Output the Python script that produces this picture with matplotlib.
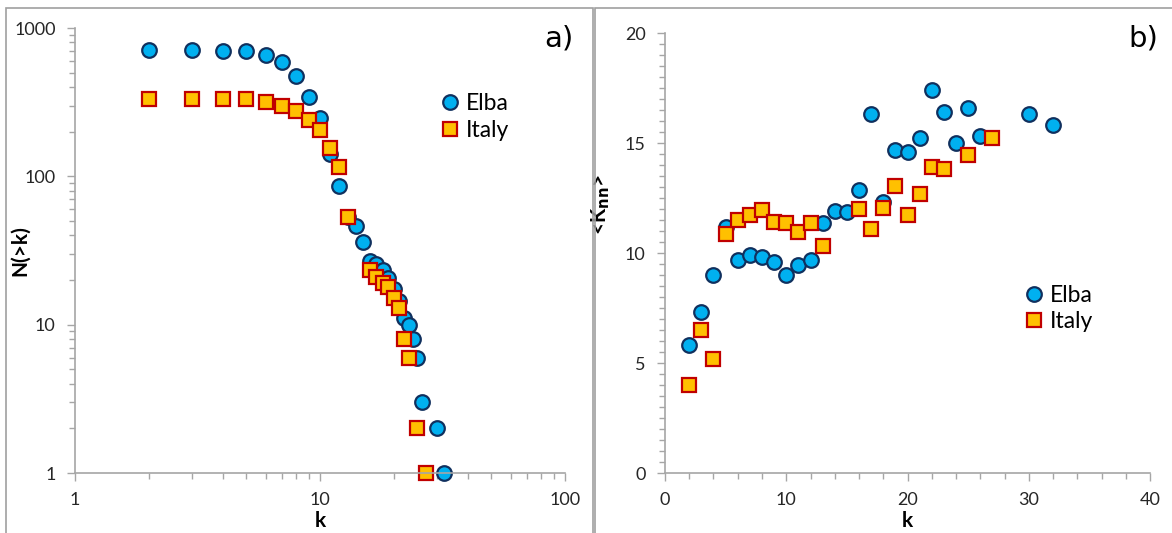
import numpy as np
import matplotlib
matplotlib.use("Agg")
import matplotlib.pyplot as plt
from matplotlib.ticker import LogLocator, MultipleLocator, FixedLocator, NullFormatter
from matplotlib.patches import Rectangle

plt.rcParams['font.family'] = ['Lato', 'DejaVu Sans']

# panel a) cumulative degree distribution N(>k)
elba_k_a = [2, 3, 4, 5, 6, 7, 8, 9, 10, 11, 12, 13, 14, 15, 16, 17, 18, 19, 20, 21, 22, 23, 24, 25, 26, 30, 32]
elba_n_a = [708, 708, 698, 698, 653, 590, 478, 342, 248, 142, 86, 53, 46, 36, 27, 25.5, 23.3, 20.7, 17.3, 14.5, 11.1, 10, 8, 6, 3, 2, 1]
italy_k_a = [2, 3, 4, 5, 6, 7, 8, 9, 10, 11, 12, 13, 16, 17, 18, 19, 20, 21, 22, 23, 25, 27]
italy_n_a = [332, 332, 332, 332, 316, 296, 277, 239, 204, 155, 116, 53, 23.2, 21, 19.2, 18, 15.1, 13, 8, 6, 2, 1]

# panel b) average nearest-neighbour degree <K_nn>
elba_k_b = [2, 3, 4, 5, 6, 7, 8, 9, 10, 11, 12, 13, 14, 15, 16, 17, 18, 19, 20, 21, 22, 23, 24, 25, 26, 30, 32]
elba_knn = [5.8, 7.3, 9.0, 11.2, 9.7, 9.9, 9.8, 9.6, 9.0, 9.45, 9.7, 11.35, 11.9, 11.85, 12.85, 16.3, 12.3, 14.7, 14.6, 15.25, 17.4, 16.4, 15.0, 16.6, 15.3, 16.3, 15.8]
italy_k_b = [2, 3, 4, 5, 6, 7, 8, 9, 10, 11, 12, 13, 16, 17, 18, 19, 20, 21, 22, 23, 25, 27]
italy_knn = [4.0, 6.5, 5.2, 10.85, 11.5, 11.75, 11.95, 11.4, 11.35, 10.95, 11.35, 10.3, 12.0, 11.1, 12.05, 13.05, 11.75, 12.7, 13.9, 13.8, 14.45, 15.25]

W, H = 1172, 533
fig = plt.figure(figsize=(W / 100, H / 100), dpi=100)

# panel frames
for x0, x1 in [(6, 593), (595, 1180)]:
    fig.patches.append(Rectangle((x0 / W, -0.05), (x1 - x0) / W, (H - 8) / H + 0.05,
                                 transform=fig.transFigure, fill=False,
                                 edgecolor='#a0a0a0', lw=1.2))

ax1 = fig.add_axes([75 / W, (H - 473) / H, 490 / W, 445 / H])
ax2 = fig.add_axes([665 / W, (H - 473) / H, 485 / W, 440 / H])

elba_style = dict(ls='none', marker='o', ms=10.5, mfc='#00b0f0', mec='#10305e', mew=1.6, label='Elba')
italy_style = dict(ls='none', marker='s', ms=10, mfc='#ffc000', mec='#c00000', mew=1.6, label='Italy')

ax1.plot(elba_k_a, elba_n_a, **elba_style, clip_on=False)
ax1.plot(italy_k_a, italy_n_a, **italy_style, clip_on=False)
ax1.set_xscale('log')
ax1.set_yscale('log')
ax1.set_xlim(1, 100)
ax1.set_ylim(1, 1000)
ax1.xaxis.set_major_locator(FixedLocator([1, 10, 100]))
ax1.yaxis.set_major_locator(FixedLocator([1, 10, 100, 1000]))
ax1.xaxis.set_minor_locator(LogLocator(base=10, subs=np.arange(2, 10)))
ax1.yaxis.set_minor_locator(LogLocator(base=10, subs=np.arange(2, 10)))
ax1.xaxis.set_minor_formatter(NullFormatter())
ax1.yaxis.set_minor_formatter(NullFormatter())
ax1.set_xticklabels(['1', '10', '100'])
ax1.set_yticklabels(['1', '10', '100', '1000'])
ax1.set_xlabel('k', fontsize=15, fontweight='bold', labelpad=2)
ax1.set_ylabel('N(>k)', fontsize=15, fontweight='bold')
ax1.yaxis.set_label_coords(-0.092, 0.5)
fig.text(559 / W, 1 - 38 / H, 'a)', fontsize=21, family='DejaVu Sans', ha='center', va='center')
ax1.legend(loc='upper left', bbox_to_anchor=(0.695, 0.90), frameon=False, fontsize=16.5,
           handletextpad=0.1, labelspacing=0.25, handlelength=1.2)

ax2.plot(elba_k_b, elba_knn, **elba_style, clip_on=False)
ax2.plot(italy_k_b, italy_knn, **italy_style, clip_on=False)
ax2.set_xlim(0, 40)
ax2.set_ylim(0, 20)
ax2.xaxis.set_major_locator(MultipleLocator(10))
ax2.xaxis.set_minor_locator(MultipleLocator(2))
ax2.yaxis.set_major_locator(MultipleLocator(5))
ax2.yaxis.set_minor_locator(MultipleLocator(0.5))
ax2.set_xlabel('k', fontsize=15, fontweight='bold', labelpad=2)
ax2.set_ylabel(r'<K$_\mathbf{nn}$>', fontsize=15, fontweight='bold')
ax2.yaxis.set_label_coords(-0.109, 0.61)
fig.text(1143 / W, 1 - 38 / H, 'b)', fontsize=21, family='DejaVu Sans', ha='center', va='center')
ax2.legend(loc='upper left', bbox_to_anchor=(0.69, 0.475), frameon=False, fontsize=16.5,
           handletextpad=0.1, labelspacing=0.25, handlelength=1.2)

for ax in (ax1, ax2):
    for s in ('top', 'right'):
        ax.spines[s].set_visible(False)
    for s in ('left', 'bottom'):
        ax.spines[s].set_color('#a6a6a6')
        ax.spines[s].set_linewidth(1.2)
    ax.tick_params(which='major', direction='out', length=6, width=1, color='#a6a6a6',
                   labelsize=13, labelcolor='#262626', pad=8)
    ax.tick_params(which='minor', direction='out', length=4, width=1, color='#a6a6a6')
    ax.set_facecolor('none')

fig.savefig('out.png', dpi=100)
